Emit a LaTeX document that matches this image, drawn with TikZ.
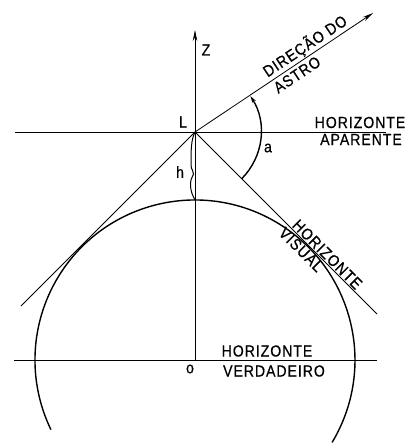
\documentclass[tikz,border=0pt]{standalone}
\usepackage{fontspec}
\setmainfont{Liberation Sans}
\usetikzlibrary{arrows.meta}
\begin{document}
\begin{tikzpicture}[x=1pt,y=-1pt,
  thinline/.style={line width=0.8pt},
  thickline/.style={line width=1.4pt},
  lbl/.style={font=\fontsize{16}{18}\selectfont\addfontfeatures{LetterSpace=6,FakeStretch=0.88,FakeBold=0.6}, inner sep=1pt},
  bigtip/.style={-{Stealth[length=11pt,width=4.5pt]}},
  smalltip/.style={-{Stealth[length=7pt,width=4pt]}}]
\useasboundingbox (0,0) rectangle (418,443);
\coordinate (L) at (195,132);
\coordinate (O) at (195,360);
\coordinate (Ztop) at (195,30);
\coordinate (Star) at (373,13);
\coordinate (HAl) at (15,132);
\coordinate (HAr) at (386,132);
\coordinate (HVl) at (14,360);
\coordinate (HVr) at (377,360);
\coordinate (TL) at (21,306);
\coordinate (TR) at (377,314);
\coordinate (Ctop) at (195,200);
\coordinate (Cstart) at (332.1,442.4);
\coordinate (Astart) at (241.7,178.7);
% horizons
\draw[thinline] (HAl) -- (HAr);
\draw[thinline] (HVl) -- (HVr);
% vertical axis
\draw[thinline,bigtip] (O) -- (Ztop);
% tangent lines
\draw[thinline] (L) -- (TR)
  node[lbl,pos=0.70,sloped,above] (hvis1) {HORIZONTE}
  node[lbl,pos=0.615,sloped,below,inner sep=2pt] (hvis2) {VISUAL};
\draw[thinline] (L) -- (TL);
% direction of star
\draw[thinline,bigtip] (L) -- (Star)
  node[lbl,pos=0.65,sloped,above] (dir1) {DIREÇÃO DO}
  node[lbl,pos=0.545,sloped,below,inner sep=3pt] (dir2) {ASTRO};
% earth
\draw[thickline] (Cstart) arc[start angle=31,end angle=-205.8,radius=160];
% angle a
\draw[thickline,smalltip] (Astart) arc[start angle=45,end angle=-33,radius=66];
% height h
\draw[line width=1pt] (L) .. controls (191,140) and (191,150) .. (191,165)
  .. controls (191,170) and (194,171) .. (193.5,174)
  .. controls (193,177) and (190.5,178) .. (190.5,184)
  .. controls (190.5,192) and (193,196) .. (Ctop);
% labels
\node[lbl] (zl) at (206,50) {Z};
\node[lbl] (ll) at (183,122) {L};
\node[lbl] (ha1) at (360,122.5) {HORIZONTE};
\node[lbl] (ha2) at (361,139.5) {APARENTE};
\node[lbl] (al) at (268,148) {a};
\node[lbl] (hl) at (180,172) {h};
\node[lbl] (hv1) at (267,351) {HORIZONTE};
\node[lbl] (hv2) at (274,371) {VERDADEIRO};
\node[lbl] (ol) at (190,369) {o};
\end{tikzpicture}
\end{document}
